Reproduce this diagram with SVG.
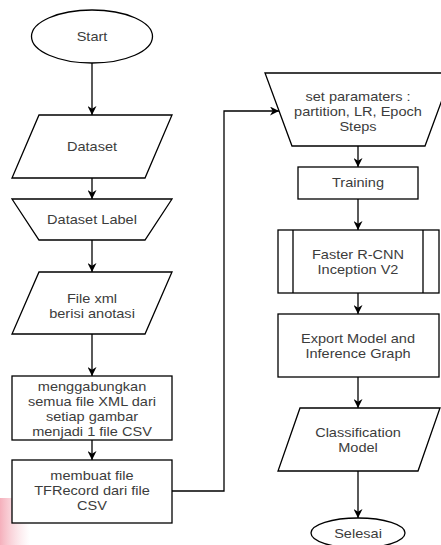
<svg xmlns="http://www.w3.org/2000/svg" width="441" height="545" viewBox="0 0 441 545">
  <defs>
    <marker id="arrow" viewBox="0 0 10 10" refX="10" refY="5" markerWidth="9" markerHeight="9" markerUnits="userSpaceOnUse" orient="auto">
      <path d="M0,0 L10,5 L0,10 L3,5 Z" fill="#000"/>
    </marker>
    <linearGradient id="pinkFade" x1="0" y1="0" x2="1" y2="0">
      <stop offset="0" stop-color="#f4a7b4" stop-opacity="0.9"/>
      <stop offset="1" stop-color="#f8c9d2" stop-opacity="0"/>
    </linearGradient>
    <style>
      .shape { fill: #fff; stroke: #000; stroke-width: 1.3; }
      .edge { fill: none; stroke: #000; stroke-width: 1.3; marker-end: url(#arrow); }
      .plain { fill: none; stroke: #000; stroke-width: 1.3; }
      text { font-family: "Liberation Sans", Arial, Helvetica, sans-serif; font-size: 13px; fill: #3c3c3c; text-anchor: middle; }
    </style>
  </defs>

  <rect width="441" height="545" fill="#fff"/>
  <!-- faint pink mark at the lower left corner -->
  <rect x="0" y="498" width="30" height="47" fill="url(#pinkFade)"/>

  <!-- connectors -->
  <g id="connectors">
    <path class="edge" d="M92,63 V115"/>
    <path class="edge" d="M92,178 V199"/>
    <path class="edge" d="M92,240 V272"/>
    <path class="edge" d="M92,334 V376"/>
    <path class="edge" d="M92,440 V460"/>
    <path class="edge" d="M172,491 H224 V111 H279"/>
    <path class="edge" d="M358,146 V167"/>
    <path class="edge" d="M358,199 V230"/>
    <path class="edge" d="M358,293 V314"/>
    <path class="edge" d="M358,377 V408"/>
    <path class="edge" d="M358,471 V518"/>
  </g>

  <!-- left column -->
  <g id="start">
    <ellipse class="shape" cx="92" cy="36.5" rx="60.5" ry="26.5"/>
    <g transform="translate(92,0) scale(1.12,1)"><text x="0" y="41.5">Start</text></g>
  </g>

  <g id="dataset">
    <polygon class="shape" points="39,115 172,115 145,178 12,178"/>
    <g transform="translate(92,0) scale(1.12,1)"><text x="0" y="151">Dataset</text></g>
  </g>

  <g id="dataset-label">
    <polygon class="shape" points="12,199 172,199 145,240 39,240"/>
    <g transform="translate(92,0) scale(1.12,1)"><text x="0" y="224.5">Dataset Label</text></g>
  </g>

  <g id="file-xml">
    <polygon class="shape" points="39,272 172,272 145,334 12,334"/>
    <g transform="translate(92,0) scale(1.12,1)">
      <text x="0" y="303.5">File xml</text>
      <text x="0" y="318.5">berisi anotasi</text>
    </g>
  </g>

  <g id="merge-xml">
    <rect class="shape" x="12" y="376" width="160" height="64"/>
    <g transform="translate(92,0) scale(1.12,1)">
      <text x="0" y="391">menggabungkan</text>
      <text x="0" y="406">semua file XML dari</text>
      <text x="0" y="421">setiap gambar</text>
      <text x="0" y="436">menjadi 1 file CSV</text>
    </g>
  </g>

  <g id="make-tfrecord">
    <rect class="shape" x="12" y="460" width="160" height="63"/>
    <g transform="translate(92,0) scale(1.12,1)">
      <text x="0" y="480">membuat file</text>
      <text x="0" y="495">TFRecord dari file</text>
      <text x="0" y="510">CSV</text>
    </g>
  </g>

  <!-- right column -->
  <g id="set-parameters">
    <polygon class="shape" points="265,73 452,73 425,146 292,146"/>
    <g transform="translate(358,0) scale(1.12,1)">
      <text x="0" y="101">set paramaters :</text>
      <text x="0" y="116">partition, LR, Epoch</text>
      <text x="0" y="131">Steps</text>
    </g>
  </g>

  <g id="training">
    <rect class="shape" x="298" y="167" width="120" height="32"/>
    <g transform="translate(358,0) scale(1.12,1)"><text x="0" y="187.5">Training</text></g>
  </g>

  <g id="faster-rcnn">
    <rect class="shape" x="278" y="230" width="161" height="63"/>
    <path class="plain" d="M293,230 V293 M423,230 V293"/>
    <g transform="translate(358,0) scale(1.12,1)">
      <text x="0" y="259.5">Faster R-CNN</text>
      <text x="0" y="274.5">Inception V2</text>
    </g>
  </g>

  <g id="export-model">
    <rect class="shape" x="278" y="314" width="161" height="63"/>
    <g transform="translate(358,0) scale(1.12,1)">
      <text x="0" y="343">Export Model and</text>
      <text x="0" y="358">Inference Graph</text>
    </g>
  </g>

  <g id="classification-model">
    <polygon class="shape" points="300,408 440,408 418,471 278,471"/>
    <g transform="translate(358,0) scale(1.12,1)">
      <text x="0" y="437">Classification</text>
      <text x="0" y="452">Model</text>
    </g>
  </g>

  <g id="selesai">
    <ellipse class="shape" cx="358" cy="533" rx="47" ry="15"/>
    <g transform="translate(358,0) scale(1.12,1)"><text x="0" y="538">Selesai</text></g>
  </g>
</svg>
